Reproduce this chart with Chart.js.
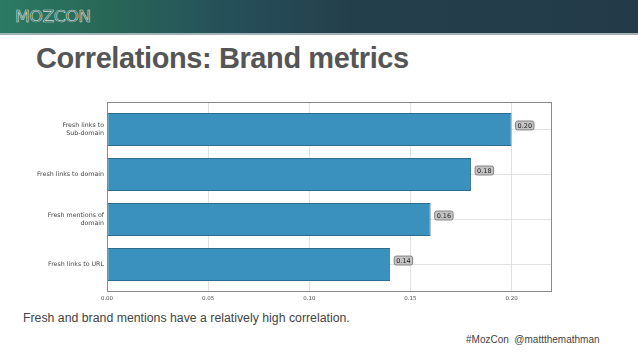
<!DOCTYPE html>
<html>
<head>
<meta charset="utf-8">
<script src="https://cdn.jsdelivr.net/npm/chart.js@4.4.1/dist/chart.umd.min.js"></script>
<style>
html,body{margin:0;padding:0;background:#fff;}
#page{position:relative;width:638px;height:359px;overflow:hidden;background:#fff;font-family:"Liberation Sans",Arial,sans-serif;}
#header{position:absolute;left:0;top:0;width:638px;height:33px;background:linear-gradient(90deg,#2b7a62 0%,#286656 18%,#25505a 35%,#243f4c 55%,#233b49 100%);border-bottom:2px solid #9fb2b4;}
#logo{position:absolute;left:15px;top:7px;font-family:"DejaVu Sans",sans-serif;font-size:16px;font-weight:normal;letter-spacing:-0.5px;color:#2a6a5a;-webkit-text-stroke:0.6px #cfd8d6;transform:scaleX(1.08);transform-origin:left;}
#title{position:absolute;left:36px;top:42px;font-size:29px;font-weight:bold;color:#555;letter-spacing:-0.4px;}
#note{position:absolute;left:23px;top:311px;font-size:12.3px;color:#444;}
#tag{position:absolute;left:466px;top:334px;font-size:10px;color:#444;}
#wrap{position:absolute;left:0;top:0;width:638px;height:359px;}
</style>
</head>
<body>
<div id="page">
  <div id="header"><div id="logo">MOZCON</div></div>
  <div id="title">Correlations: Brand metrics</div>
  <div id="note">Fresh and brand mentions have a relatively high correlation.</div>
  <div id="tag">#MozCon&nbsp; @mattthemathman</div>
  <div id="wrap"><canvas id="c" width="638" height="359"></canvas></div>
</div>
<script>
const categories = [["Fresh links to", "Sub-domain"], ["Fresh links to domain"], ["Fresh mentions of", "domain"], ["Fresh links to URL"]];
const correlations = [0.20, 0.18, 0.16, 0.14];
const valueLabels = ["0.20", "0.18", "0.16", "0.14"];
const xTicks = [0, 0.05, 0.10, 0.15, 0.20];
const xTickLabels = ["0.00", "0.05", "0.10", "0.15", "0.20"];

const framePlugin = {
  id: 'frame',
  afterDatasetsDraw(chart) {
    const {ctx, chartArea: a} = chart;
    ctx.save();
    ctx.strokeStyle = '#8a8a8a';
    ctx.lineWidth = 1;
    ctx.strokeRect(a.left + 0.5, a.top + 0.5, a.right - a.left - 1, a.bottom - a.top - 1);
    const meta = chart.getDatasetMeta(0);
    ctx.font = '6.5px "DejaVu Sans", sans-serif';
    ctx.textBaseline = 'middle';
    meta.data.forEach((bar, i) => {
      const txt = valueLabels[i];
      const w = ctx.measureText(txt).width + 4;
      const h = 9;
      const x = bar.x + 4, y = bar.y - 4;
      ctx.beginPath();
      ctx.roundRect(x, y - h / 2, w, h, 2);
      ctx.fillStyle = '#c4c4c4';
      ctx.fill();
      ctx.strokeStyle = '#6e6e6e';
      ctx.lineWidth = 0.8;
      ctx.stroke();
      ctx.fillStyle = '#222';
      ctx.textAlign = 'left';
      ctx.fillText(txt, x + 2, y + 0.5);
    });
    ctx.restore();
  }
};

new Chart(document.getElementById('c'), {
  type: 'bar',
  data: {
    datasets: [{
      data: correlations.map((v, i) => ({x: v, y: i})),
      backgroundColor: '#3b91bd',
      borderColor: '#2c6c8e',
      borderWidth: 1,
      borderSkipped: false,
      barPercentage: 0.73,
      categoryPercentage: 1.0
    }]
  },
  options: {
    indexAxis: 'y',
    responsive: false,
    animation: false,
    devicePixelRatio: 1,
    layout: {padding: {left: 0, right: 86, top: 102, bottom: 47}},
    plugins: {legend: {display: false}, tooltip: {enabled: false}},
    scales: {
      x: {
        type: 'linear', min: 0, max: 0.22,
        afterBuildTicks: s => { s.ticks = xTicks.map(v => ({value: v})); },
        afterFit: s => { s.height = 20; },
        border: {display: false},
        grid: {color: '#dadada', lineWidth: 0.8, borderDash: [1.5, 2], drawTicks: false},
        ticks: {
          padding: 3,
          color: '#555',
          font: {family: '"DejaVu Sans", sans-serif', size: 5.5},
          callback: (v, i) => xTickLabels[i]
        }
      },
      y: {
        type: 'linear', min: -0.61, max: 3.61, reverse: true, offset: false,
        afterBuildTicks: s => { s.ticks = categories.map((c, i) => ({value: i})); },
        afterFit: s => { s.width = 107; },
        border: {display: false},
        grid: {color: '#dadada', lineWidth: 0.8, borderDash: [1.5, 2], drawTicks: false, offset: false},
        ticks: {
          padding: 3,
          color: '#444',
          font: {family: '"DejaVu Sans", sans-serif', size: 6.3},
          callback: (v) => categories[v]
        }
      }
    }
  },
  plugins: [framePlugin]
});
</script>
</body>
</html>
